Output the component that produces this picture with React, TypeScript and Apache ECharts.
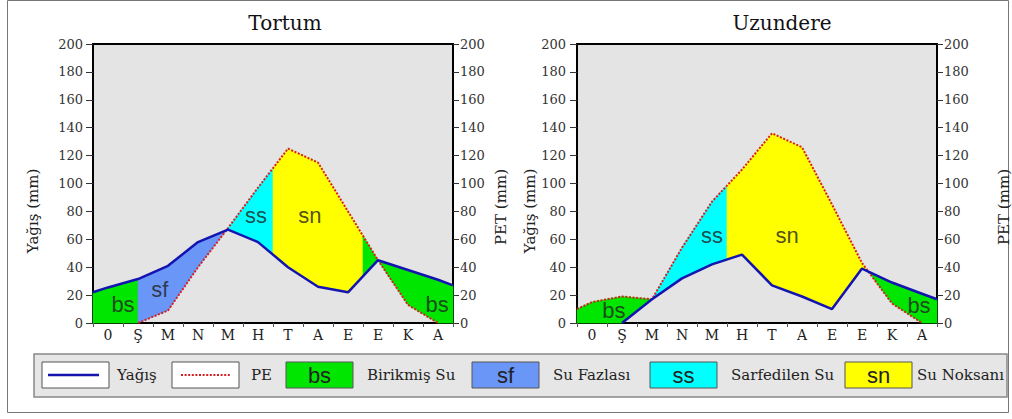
import React, { useEffect, useRef } from "react";
import * as echarts from "echarts";

// ---------- data ----------
const MONTHS = ["0", "Ş", "M", "N", "M", "H", "T", "A", "E", "E", "K", "A"];

const TORTUM_P = [25.5, 31.5, 41, 58, 67, 58, 40, 26, 22, 45, 38, 31];
const TORTUM_P_EDGES = [22, 27];
const TORTUM_PE = [null, 0, 9, 40, 68, 97, 125, 115, 80, 45, 13, 0];
const TORTUM_PE_EDGES = [null, null];

const UZUNDERE_P = [null, 0, 17, 32, 42, 49, 27, 19, 10, 39, 29, 21];
const UZUNDERE_P_EDGES = [null, 17];
const UZUNDERE_PE = [15, 19, 17, 54, 87, 110, 136, 126, 85, 43, 14, 0];
const UZUNDERE_PE_EDGES = [10, null];

const Y_MIN = 0;
const Y_MAX = 200;
const Y_STEP = 20;

// zones: [kind, top curve, bottom curve, from, to] ; a [lo,hi] pair means "crossing of P and PE inside"
const TORTUM_ZONES: any[] = [
  ["bs", "P", "zero", 0, 1.5],
  ["sf", "P", "PE", 1.5, [3.5, 5]],
  ["ss", "PE", "P", [3.5, 5], 6],
  ["sn", "PE", "P", 6, 9],
  ["bs", "PE", "P", 9, [9, 10.5]],
  ["bs", "P", "PE", [9, 10.5], 12],
];
const UZUNDERE_ZONES: any[] = [
  ["bs", "PE", "P", 0, [2, 3]],
  ["ss", "PE", "P", [2, 3], 5],
  ["sn", "PE", "P", 5, [9, 11]],
  ["bs", "P", "PE", [9, 11], 12],
];

// zone label anchors [text, month position, value]
const TORTUM_LABELS: any[] = [
  ["bs", 1.0, 13.6],
  ["sf", 2.23, 23.7],
  ["ss", 5.43, 77],
  ["sn", 7.23, 77],
  ["bs", 11.47, 13.6],
];
const UZUNDERE_LABELS: any[] = [
  ["bs", 1.23, 9.3],
  ["ss", 4.5, 63],
  ["sn", 7.0, 63],
  ["bs", 11.4, 12.9],
];

const TITLES = ["Tortum", "Uzundere"];
const LEGEND_ITEMS = [
  ["line", "Yağış"],
  ["dot", "PE"],
  ["bs", "Birikmiş Su"],
  ["sf", "Su Fazlası"],
  ["ss", "Sarfedilen Su"],
  ["sn", "Su Noksanı"],
];

// ---------- styles ----------
const COLORS: Record<string, string> = {
  bs: "#00e600",
  sf: "#6a96f8",
  ss: "#00ffff",
  sn: "#ffff00",
};
const P_COLOR = "#1414b0";
const PE_COLOR = "#d42020";
const SERIF = "DejaVu Serif";
const SANS = "Liberation Sans";

// ---------- helpers ----------
const XS = [0, ...MONTHS.map((_, i) => i + 0.5), 12];

function full(edges: (number | null)[], vals: (number | null)[]) {
  return [edges[0], ...vals, edges[1]];
}

function valAt(c: (number | null)[], i: number) {
  const v = c[i];
  return v == null ? 0 : Math.max(0, v);
}

function at(c: (number | null)[] | null, x: number) {
  if (!c) return 0;
  for (let i = 0; i < XS.length - 1; i++) {
    if (x >= XS[i] && x <= XS[i + 1]) {
      const t = (x - XS[i]) / (XS[i + 1] - XS[i]);
      return valAt(c, i) * (1 - t) + valAt(c, i + 1) * t;
    }
  }
  return 0;
}

function cross(a: any[], b: any[], lo: number, hi: number) {
  const pts = [lo, ...XS.filter((x) => x > lo && x < hi), hi];
  for (let k = 0; k < pts.length - 1; k++) {
    const p0 = pts[k];
    const p1 = pts[k + 1];
    const d0 = at(a, p0) - at(b, p0);
    const d1 = at(a, p1) - at(b, p1);
    if (d0 === 0) return p0;
    if (d0 * d1 <= 0) return p0 + ((p1 - p0) * d0) / (d0 - d1);
  }
  return hi;
}

function zonePolygon(curves: Record<string, any>, z: any[]) {
  const top = curves[z[1]];
  const bottom = curves[z[2]];
  const resolve = (v: any) =>
    Array.isArray(v) ? cross(curves.P, curves.PE, v[0], v[1]) : v;
  const x0 = resolve(z[3]);
  const x1 = resolve(z[4]);
  const xs = [x0, ...XS.filter((x) => x > x0 && x < x1), x1];
  const upper = xs.map((x) => [x, at(top, x)]);
  const lower = xs
    .slice()
    .reverse()
    .map((x) => [x, at(bottom, x)]);
  return [...upper, ...lower];
}

function lineData(c: (number | null)[]) {
  return XS.map((x, i) => [x, c[i]]).filter((d) => d[1] != null);
}

const GRIDS = [
  { left: 93, top: 44, width: 360, height: 279 },
  { left: 577, top: 44, width: 360, height: 279 },
];

const CHARTS = [
  {
    P: full(TORTUM_P_EDGES, TORTUM_P),
    PE: full(TORTUM_PE_EDGES, TORTUM_PE),
    zones: TORTUM_ZONES,
    labels: TORTUM_LABELS,
  },
  {
    P: full(UZUNDERE_P_EDGES, UZUNDERE_P),
    PE: full(UZUNDERE_PE_EDGES, UZUNDERE_PE),
    zones: UZUNDERE_ZONES,
    labels: UZUNDERE_LABELS,
  },
];

function buildOption() {
  const grid = GRIDS.map((g) => ({
    ...g,
    show: true,
    backgroundColor: "#e4e4e4",
    borderColor: "#000",
    borderWidth: 2,
  }));

  const xAxis: any[] = [];
  const yAxis: any[] = [];
  const series: any[] = [];

  CHARTS.forEach((ch, gi) => {
    xAxis.push({
      type: "category",
      gridIndex: gi,
      data: MONTHS,
      boundaryGap: true,
      axisLine: { show: true, lineStyle: { color: "#000", width: 2 } },
      axisTick: { show: true, interval: 0, length: 4, lineStyle: { color: "#555" } },
      axisLabel: {
        interval: 0,
        margin: 5,
        fontFamily: SERIF,
        fontSize: 14,
        color: "#222",
      },
      splitLine: { show: false },
    });
    xAxis.push({
      type: "value",
      gridIndex: gi,
      min: 0,
      max: 12,
      show: false,
    });
    const yCommon = {
      type: "value",
      gridIndex: gi,
      min: Y_MIN,
      max: Y_MAX,
      interval: Y_STEP,
      axisLine: { show: true, lineStyle: { color: "#000", width: 2 } },
      splitLine: { show: false },
    };
    yAxis.push({
      ...yCommon,
      position: "left",
      axisTick: { show: true, length: 7, lineStyle: { color: "#333", width: 1 } },
      axisLabel: {
        margin: gi === 0 ? 10 : 11,
        fontFamily: SERIF,
        fontSize: 13,
        color: "#333",
      },
    });
    yAxis.push({
      ...yCommon,
      position: "right",
      axisTick: { show: true, length: 6, lineStyle: { color: "#333", width: 1 } },
      axisLabel: {
        margin: 7,
        fontFamily: SERIF,
        fontSize: 13,
        color: "#333",
      },
    });

    const curves = { P: ch.P, PE: ch.PE, zero: null };
    series.push({
      type: "custom",
      xAxisIndex: gi * 2 + 1,
      yAxisIndex: gi * 2,
      silent: true,
      z: 1,
      data: ch.zones.map(() => [0, 0]),
      renderItem: (params: any, api: any) => {
        const z = ch.zones[params.dataIndex];
        const pts = zonePolygon(curves, z).map((p) => api.coord(p));
        return {
          type: "polygon",
          shape: { points: pts },
          style: { fill: COLORS[z[0]], stroke: COLORS[z[0]], lineWidth: 0.6 },
        };
      },
    });
    series.push({
      type: "line",
      xAxisIndex: gi * 2 + 1,
      yAxisIndex: gi * 2,
      data: lineData(ch.PE),
      showSymbol: false,
      silent: true,
      z: 3,
      lineStyle: { color: PE_COLOR, width: 2, type: [2, 1.6] },
    });
    series.push({
      type: "line",
      xAxisIndex: gi * 2 + 1,
      yAxisIndex: gi * 2,
      data: lineData(ch.P),
      showSymbol: false,
      silent: true,
      z: 4,
      lineStyle: { color: P_COLOR, width: 2.5 },
    });
    series.push({
      type: "scatter",
      xAxisIndex: gi * 2 + 1,
      yAxisIndex: gi * 2,
      silent: true,
      z: 5,
      symbolSize: 1,
      itemStyle: { color: "rgba(0,0,0,0)" },
      data: ch.labels.map((l: any[]) => ({ name: l[0], value: [l[1], l[2]] })),
      label: {
        show: true,
        position: "inside",
        formatter: (p: any) => p.name,
        fontFamily: SANS,
        fontSize: 22,
        color: "#222",
      },
      labelLayout: { hideOverlap: false },
    });
  });

  // ---------- graphics: titles, axis names, legend, frame ----------
  const graphic: any[] = [];
  graphic.push({
    type: "rect",
    shape: { x: 7.5, y: 0.5, width: 1001, height: 412 },
    style: { fill: "none", stroke: "#777", lineWidth: 1 },
    z: -10,
  });
  const titleX = [285, 782];
  TITLES.forEach((t, i) =>
    graphic.push({
      type: "text",
      x: titleX[i],
      y: 23,
      style: {
        text: t,
        align: "center",
        verticalAlign: "middle",
        fontFamily: SERIF,
        fontSize: 20,
        fill: "#111",
      },
    })
  );
  const axisNames: any[] = [
    ["Yağış (mm)", 33, 211],
    ["PET (mm)", 501, 207],
    ["Yağış (mm)", 530, 211],
    ["PET (mm)", 1004, 207],
  ];
  axisNames.forEach((a) =>
    graphic.push({
      type: "text",
      x: a[1],
      y: a[2],
      rotation: Math.PI / 2,
      style: {
        text: a[0],
        align: "center",
        verticalAlign: "middle",
        fontFamily: SERIF,
        fontSize: 15,
        fill: "#222",
      },
    })
  );

  graphic.push({
    type: "rect",
    shape: { x: 34, y: 354, width: 973, height: 43 },
    style: { fill: "#e6e6e6", stroke: "#888", lineWidth: 1.5 },
  });
  const boxX = [42, 172, 286, 472, 650, 845];
  const textX = [117, 251, 367, 553, 731, 917];
  LEGEND_ITEMS.forEach((it, i) => {
    const kind = it[0];
    const bx = boxX[i];
    graphic.push({
      type: "rect",
      shape: { x: bx, y: 362, width: 67, height: 26 },
      style: {
        fill: COLORS[kind] || "#ffffff",
        stroke: "#555",
        lineWidth: 1,
      },
    });
    if (kind === "line") {
      graphic.push({
        type: "line",
        shape: { x1: bx + 6, y1: 375, x2: bx + 57, y2: 375 },
        style: { stroke: P_COLOR, lineWidth: 2.5 },
      });
    } else if (kind === "dot") {
      graphic.push({
        type: "line",
        shape: { x1: bx + 9, y1: 375, x2: bx + 59, y2: 375 },
        style: { stroke: PE_COLOR, lineWidth: 2, lineDash: [2, 1.6] },
      });
    } else {
      graphic.push({
        type: "text",
        x: bx + 33.5,
        y: 375,
        style: {
          text: kind,
          align: "center",
          verticalAlign: "middle",
          fontFamily: SANS,
          fontSize: 22,
          fill: "#222",
        },
      });
    }
    graphic.push({
      type: "text",
      x: textX[i],
      y: 375,
      style: {
        text: it[1],
        align: "left",
        verticalAlign: "middle",
        fontFamily: SERIF,
        fontSize: 15,
        fill: "#222",
      },
    });
  });

  return {
    animation: false,
    backgroundColor: "#ffffff",
    grid,
    xAxis,
    yAxis,
    series,
    graphic,
  };
}

export default function App() {
  const ref = useRef<HTMLDivElement>(null);
  useEffect(() => {
    document.body.style.margin = "0";
    if (!ref.current) return;
    const chart = echarts.init(ref.current, null, { renderer: "svg" });
    chart.setOption(buildOption() as any);
    return () => chart.dispose();
  }, []);
  return <div ref={ref} style={{ width: 1012, height: 419 }} />;
}
